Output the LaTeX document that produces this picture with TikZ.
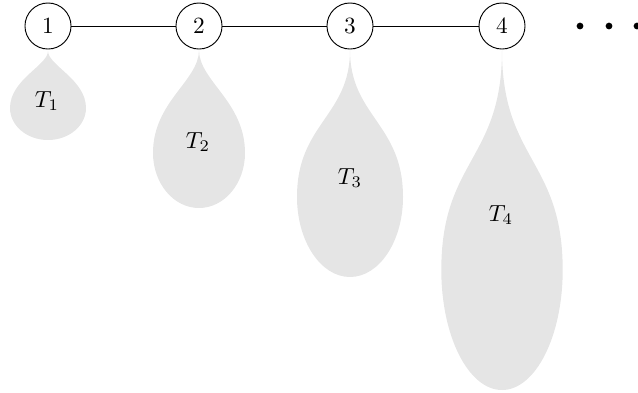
\documentclass[tikz,border=0pt]{standalone}
\begin{document}
\begin{tikzpicture}[x=0.43pt,y=-0.43pt,
  vertex/.style={draw,circle,minimum size=19.8pt,inner sep=0pt,fill=white},
  dropfill/.style={fill=black!10},
  dotmark/.style={fill=black,circle,inner sep=0pt,minimum size=2.9pt}]
\useasboundingbox (0,0) rectangle (638,392);
\newcommand{\teardrop}[6]{% cx, ytip, halfwidth, ywidest, lower radius, neck factor
  \fill[dropfill] (#1,#2)
    .. controls (#1,{#2+#6*(#4-#2)}) and ({#1-#3},{(#2+#4)/2}) .. ({#1-#3},#4)
    .. controls ({#1-#3},{#4+0.5523*#5}) and ({#1-0.5523*#3},{#4+#5}) .. (#1,{#4+#5})
    .. controls ({#1+0.5523*#3},{#4+#5}) and ({#1+#3},{#4+0.5523*#5}) .. ({#1+#3},#4)
    .. controls ({#1+#3},{(#2+#4)/2}) and (#1,{#2+#6*(#4-#2)}) .. (#1,#2) -- cycle;}
\teardrop{48}{51}{38}{108}{32}{0.25}
\teardrop{199}{50}{46}{153}{55}{0.3}
\teardrop{350}{50}{53}{197}{80}{0.45}
\teardrop{502}{50}{60.7}{270}{120}{0.5}
\node (t1) at (47,101) {$T_1$};
\node (t2) at (198,142) {$T_2$};
\node (t3) at (350,178) {$T_3$};
\node (t4) at (501,215) {$T_4$};
\node[vertex] (n1) at (48,26) {1};
\node[vertex] (n2) at (199,26) {2};
\node[vertex] (n3) at (350,26) {3};
\node[vertex] (n4) at (502,26) {4};
\draw (n1) -- (n2);
\draw (n2) -- (n3);
\draw (n3) -- (n4);
\node[dotmark] (d1) at (580,26) {};
\node[dotmark] (d2) at (609,26) {};
\node[dotmark] (d3) at (637,26) {};
\end{tikzpicture}
\end{document}
